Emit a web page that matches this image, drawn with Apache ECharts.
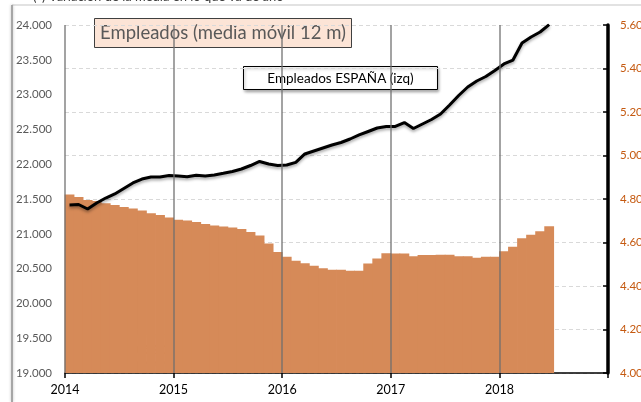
<!DOCTYPE html>
<html>
<head>
<meta charset="utf-8">
<script src="https://cdn.jsdelivr.net/npm/echarts@6/dist/echarts.min.js"></script>
<style>
  html, body { margin: 0; padding: 0; background: #fff; }
  #chart { width: 641px; height: 402px; }
</style>
</head>
<body>
<div id="chart"></div>
<script>
// meses desde enero 2014
var startYear = 2014
var yearTicks = [2014, 2015, 2016, 2017, 2018]

// Empleados ESPAÑA (izq), media móvil 12 m
var espana = [
  21414, 21421, 21356, 21443, 21514, 21572, 21651, 21730, 21787, 21816, 21816, 21838,
  21830, 21820, 21841, 21830, 21845, 21869, 21895, 21931, 21981, 22039, 22003, 21981,
  21988, 22027, 22147, 22190, 22233, 22276, 22312, 22362, 22420, 22470, 22520, 22542,
  22542, 22599, 22513, 22578, 22642, 22721, 22851, 22987, 23109, 23195, 23260, 23346,
  23440, 23497, 23741, 23828, 23899, 24005
]

// Empleados CyL (dcha)
var cyl = [
  4.821, 4.809, 4.795, 4.791, 4.781, 4.772, 4.763, 4.756, 4.747, 4.735, 4.726, 4.715,
  4.705, 4.701, 4.694, 4.685, 4.678, 4.673, 4.669, 4.662, 4.648, 4.632, 4.595, 4.556,
  4.535, 4.516, 4.505, 4.493, 4.482, 4.475, 4.475, 4.470, 4.470, 4.503, 4.526, 4.551,
  4.549, 4.549, 4.537, 4.542, 4.542, 4.544, 4.544, 4.537, 4.537, 4.530, 4.535, 4.535,
  4.560, 4.581, 4.620, 4.636, 4.652, 4.675
]

function monthX(i) {
  return startYear + (i + 0.5) / 12
}

function miles(v) {
  return String(v).replace(/\B(?=(\d{3})+(?!\d))/g, '.')
}

var chart = echarts.init(document.getElementById('chart'), null, { renderer: 'canvas' })

chart.setOption({
  animation: false,
  textStyle: { fontFamily: 'Lato, "Open Sans", sans-serif' },
  grid: { left: 65, right: 33, top: 25, bottom: 29, outerBoundsMode: 'none' },
  xAxis: {
    type: 'value',
    min: 2014,
    max: 2019,
    interval: 1,
    axisLine: { lineStyle: { color: '#000', width: 1.5 } },
    axisTick: { length: 5, lineStyle: { color: '#000', width: 1.5 } },
    splitLine: { show: false },
    axisLabel: {
      color: '#000',
      fontSize: 12.5,
      margin: 10,
      formatter: function (v) { return v < 2019 ? String(v) : '' }
    }
  },
  yAxis: [{
    type: 'value',
    position: 'left',
    min: 19000,
    max: 24000,
    interval: 500,
    axisLine: { show: false },
    axisTick: { show: false },
    splitLine: { show: false },
    axisLabel: {
      color: '#595959',
      fontSize: 11.5,
      margin: 13,
      formatter: function (v) { return miles(v) }
    }
  }, {
    type: 'value',
    position: 'right',
    min: 4,
    max: 5.6,
    interval: 0.2,
    axisLine: { show: true, lineStyle: { color: '#000', width: 3.5 } },
    axisTick: { show: true, inside: true, length: 5, lineStyle: { color: '#000', width: 1.5 } },
    splitLine: { show: true, lineStyle: { color: '#d9d9d9', type: [4, 3], width: 1 } },
    axisLabel: {
      color: '#c55a11',
      fontSize: 11.5,
      margin: 12,
      formatter: function (v) { return v.toFixed(2) }
    }
  }],
  series: [{
    name: 'Empleados CyL (dcha)',
    type: 'bar',
    yAxisIndex: 1,
    barWidth: 9.8,
    itemStyle: { color: '#d68a58' },
    data: cyl.map(function (v, i) { return [monthX(i), v] })
  }, {
    name: 'Empleados ESPAÑA (izq)',
    type: 'line',
    yAxisIndex: 0,
    symbol: 'none',
    lineStyle: {
      color: '#000',
      width: 3,
      shadowColor: 'rgba(0,0,0,0.35)',
      shadowBlur: 3,
      shadowOffsetY: 2
    },
    data: espana.map(function (v, i) { return [monthX(i), v] }),
    markLine: {
      silent: true,
      symbol: ['none', 'none'],
      label: { show: false },
      lineStyle: { color: 'rgba(110,110,110,0.85)', width: 1.5, type: 'solid' },
      data: yearTicks.map(function (y) { return { xAxis: y } })
    }
  }],
  graphic: [
    // marco del gráfico
    { type: 'line', shape: { x1: 12, y1: 5, x2: 641, y2: 5 }, style: { stroke: '#d9d9d9', lineWidth: 1.5 } },
    { type: 'line', shape: { x1: 12, y1: 5, x2: 12, y2: 402 }, style: { stroke: '#a6a6a6', lineWidth: 2, shadowColor: 'rgba(0,0,0,0.25)', shadowBlur: 3 } },
    {
      type: 'text', left: 33, top: -10,
      style: { text: '(*) Variación de la media en lo que va de año', fill: '#404040', font: '13px Lato, sans-serif' }
    },
    {
      type: 'group', left: 94, top: 18,
      children: [
        { type: 'rect', shape: { x: 0, y: 0, width: 257, height: 29 }, style: { fill: '#fce4d6', stroke: '#404040', lineWidth: 1 } },
        { type: 'text', x: 128.5, y: 15, style: { text: 'Empleados (media móvil 12 m)', fill: '#595959', font: '18.5px Lato, sans-serif', align: 'center', verticalAlign: 'middle' } }
      ]
    },
    {
      type: 'group', left: 243, top: 66,
      children: [
        { type: 'rect', shape: { x: 0, y: 0, width: 194, height: 23 }, style: { fill: '#fff', stroke: '#000', lineWidth: 1, shadowColor: 'rgba(0,0,0,0.35)', shadowBlur: 3, shadowOffsetX: 1, shadowOffsetY: 2 } },
        { type: 'text', x: 97, y: 12, style: { text: 'Empleados ESPAÑA (izq)', fill: '#000', font: '13.5px Lato, sans-serif', align: 'center', verticalAlign: 'middle' } }
      ]
    },
    {
      type: 'group', left: 72, top: 334,
      children: [
        { type: 'rect', shape: { x: 0, y: 0, width: 232, height: 27 }, style: { fill: '#fff', stroke: '#f4b183', lineWidth: 1, shadowColor: 'rgba(0,0,0,0.35)', shadowBlur: 3, shadowOffsetX: 1, shadowOffsetY: 2 } },
        { type: 'text', x: 116, y: 14, style: { text: 'Empleados CyL (dcha)', fill: '#c55a11', font: '17.5px Lato, sans-serif', align: 'center', verticalAlign: 'middle' } }
      ]
    }
  ]
})
</script>
</body>
</html>
